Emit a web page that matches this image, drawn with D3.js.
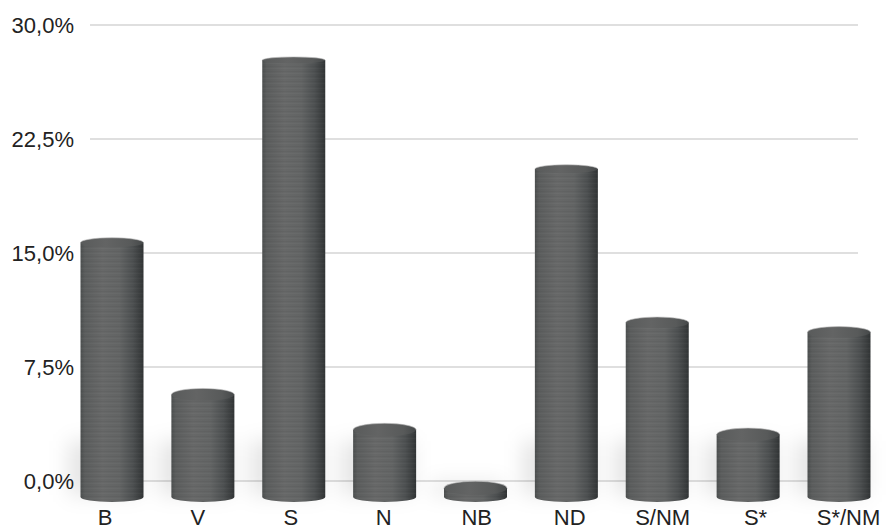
<!DOCTYPE html>
<html>
<head>
<meta charset="utf-8">
<script src="https://cdn.jsdelivr.net/npm/d3@7/dist/d3.min.js"></script>
<style>
  html, body { margin: 0; padding: 0; background: #fff; }
  svg { display: block; }
  text { font-family: "Liberation Sans", Arial, Helvetica, sans-serif; fill: #222; }
</style>
</head>
<body>
<svg id="chart" width="886" height="529"></svg>
<script>
// Share of each category (%)
const categories = ["B", "V", "S", "N", "NB", "ND", "S/NM", "S*", "S*/NM"];
const values = [15.9, 6.4, 27.3, 4.2, 0.55, 20.5, 10.9, 3.9, 10.3];
const tickValues = [0, 7.5, 15, 22.5, 30];
const tickLabels = ["0,0%", "7,5%", "15,0%", "22,5%", "30,0%"];

const svg = d3.select("#chart");
const defs = svg.append("defs");

// Back-wall scale (gridlines) and front-plane scale (cylinders, a bit larger from perspective)
const yWall = d3.scaleLinear().domain([0, 30]).range([481, 25]);
const baseY = 497;
const yFront = d3.scaleLinear().domain([0, 30]).range([baseY, baseY - 30 * 16]);

const xBar = d3.scalePoint().domain(categories).range([112, 839]);
const xLabel = d3.scalePoint().domain(categories).range([105, 848.5]);
const barW = 63;
const rx = barW / 2;
const ryBottom = 5;
const ryTop = yc => 3 + 4 * Math.max(0, Math.min(1, (yc - 25) / 470));

// Gradients
const bodyGrad = defs.append("linearGradient").attr("id", "bodyGrad").attr("x1", 0).attr("x2", 1).attr("y1", 0).attr("y2", 0);
[[0, "#4c4f4f"], [0.07, "#5b5d5d"], [0.35, "#676868"], [0.62, "#626464"], [0.83, "#4d5051"], [0.95, "#3a3d3e"], [1, "#313435"]]
  .forEach(([o, c]) => bodyGrad.append("stop").attr("offset", o).attr("stop-color", c));

const topGrad = defs.append("linearGradient").attr("id", "topGrad").attr("x1", 0).attr("x2", 1).attr("y1", 0).attr("y2", 0);
[[0, "#595b5b"], [0.4, "#636464"], [0.8, "#585a5a"], [1, "#454849"]]
  .forEach(([o, c]) => topGrad.append("stop").attr("offset", o).attr("stop-color", c));

// Brushed texture: fine horizontal streaks
const pat = defs.append("pattern").attr("id", "streaks").attr("patternUnits", "userSpaceOnUse")
  .attr("width", 40).attr("height", 5);
pat.append("rect").attr("x", 0).attr("y", 1).attr("width", 40).attr("height", 1).attr("fill", "rgba(0,0,0,0.035)");
pat.append("rect").attr("x", 0).attr("y", 3).attr("width", 40).attr("height", 1).attr("fill", "rgba(255,255,255,0.025)");

const blur = defs.append("filter").attr("id", "soft").attr("x", "-50%").attr("y", "-50%").attr("width", "200%").attr("height", "200%");
blur.append("feGaussianBlur").attr("stdDeviation", 10);

// Gridlines
svg.append("g").selectAll("line").data(tickValues).join("line")
  .attr("x1", 90).attr("x2", 858)
  .attr("y1", d => yWall(d)).attr("y2", d => yWall(d))
  .attr("stroke", "#d5d5d5").attr("stroke-width", 1.5);

// Tick labels
svg.append("g").selectAll("text").data(tickValues).join("text")
  .attr("x", 74).attr("y", d => yWall(d) + 8)
  .attr("text-anchor", "end").attr("font-size", 22)
  .text((d, i) => tickLabels[i]);

// Soft shadows cast behind the cylinders
const shadows = svg.append("g").attr("filter", "url(#soft)");
categories.forEach((c, i) => {
  const cx = xBar(c);
  const yt = yFront(values[i]);
  const h = Math.min(50, baseY - yt);
  shadows.append("rect")
    .attr("x", cx - rx - 12).attr("y", baseY - h - 6)
    .attr("width", barW + 8).attr("height", h + 4)
    .attr("fill", "rgba(0,0,0,0.10)");
});

// Cylinders
const bars = svg.append("g");
categories.forEach((c, i) => {
  const cx = xBar(c);
  const yc = yFront(values[i]);
  const ry = ryTop(yc);
  const L = cx - rx, R = cx + rx;
  const d = `M${L},${yc} L${L},${baseY} A${rx},${ryBottom} 0 0 0 ${R},${baseY} L${R},${yc} Z`;
  const g = bars.append("g");
  g.append("path").attr("d", d).attr("fill", "url(#bodyGrad)");
  g.append("path").attr("d", d).attr("fill", "url(#streaks)");
  g.append("ellipse").attr("cx", cx).attr("cy", yc).attr("rx", rx).attr("ry", ry)
    .attr("fill", "url(#topGrad)");
  // light rim on the far edge of the top face
  g.append("path").attr("d", `M${L},${yc} A${rx},${ry} 0 0 1 ${R},${yc}`)
    .attr("fill", "none").attr("stroke", "rgba(190,190,190,0.6)").attr("stroke-width", 1);
});

// Category labels
svg.append("g").selectAll("text").data(categories).join("text")
  .attr("x", d => xLabel(d)).attr("y", 525)
  .attr("text-anchor", "middle").attr("font-size", 22)
  .text(d => d);
</script>
</body>
</html>
